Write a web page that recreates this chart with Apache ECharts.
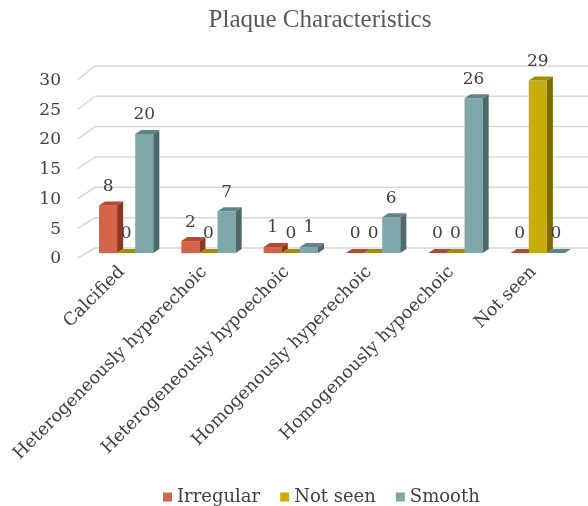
<!DOCTYPE html>
<html>
<head>
<meta charset="utf-8">
<script src="https://cdn.jsdelivr.net/npm/echarts@6/dist/echarts.min.js"></script>
<style>
  html, body { margin: 0; padding: 0; background: #fff; }
  #chart { width: 588px; height: 506px; }
</style>
</head>
<body>
<div id="chart"></div>
<script>
// Plaque characteristics by surface type
const categories = [
  'Calcified',
  'Heterogeneously hyperechoic',
  'Heterogeneously hypoechoic',
  'Homogenously hyperechoic',
  'Homogenously hypoechoic',
  'Not seen'
];
const irregular = [8, 2, 1, 0, 0, 0];
const notSeen   = [0, 0, 0, 0, 0, 29];
const smooth    = [20, 7, 1, 6, 26, 0];
const yTicks    = [0, 5, 10, 15, 20, 25, 30];

const SERIF = '"DejaVu Serif", Georgia, serif';
const TEXT = '#404040';

// pseudo-3D depth of each column (right and up)
const DX = 6, DY = 4;

const palettes = [
  { front: '#D4634A', side: '#8C3521', top: '#B04B32' },
  { front: '#C9AD0C', side: '#7E6C00', top: '#A48E00' },
  { front: '#7DA7A8', side: '#4F6869', top: '#5F8587' }
];

function barSeries(name, values, idx) {
  const pal = palettes[idx];
  return {
    type: 'custom',
    name: name,
    itemStyle: { color: pal.front },
    data: values.map((v, i) => [i, v]),
    encode: { x: 0, y: 1 },
    z: 3,
    renderItem: function (params, api) {
      const cat = api.value(0), v = api.value(1);
      const base = api.coord([cat, 0]);
      const top = api.coord([cat, v]);
      const w = api.size([1, 0])[0] * 0.22;
      const cx = base[0] + (idx - 1) * w;
      const x0 = cx - w / 2, x1 = cx + w / 2;
      const yb = base[1], yt = top[1];
      const children = [];
      if (yb - yt > 0.5) {
        children.push({
          type: 'rect',
          shape: { x: x0, y: yt, width: w, height: yb - yt },
          style: { fill: pal.front }
        });
        children.push({
          type: 'polygon',
          shape: { points: [[x1, yt], [x1 + DX, yt - DY], [x1 + DX, yb - DY], [x1, yb]] },
          style: { fill: pal.side }
        });
      }
      children.push({
        type: 'polygon',
        shape: { points: [[x0, yt], [x0 + DX, yt - DY], [x1 + DX, yt - DY], [x1, yt]] },
        style: { fill: pal.top }
      });
      children.push({
        type: 'text',
        x: cx,
        y: yt - 19,
        style: {
          text: String(v),
          fill: TEXT,
          font: '17px ' + SERIF,
          align: 'center',
          verticalAlign: 'middle'
        }
      });
      return { type: 'group', children: children };
    }
  };
}

// floor/back-wall grid lines: short diagonal at the front, then along the back wall
const gridSeries = {
  type: 'custom',
  name: 'grid',
  silent: true,
  z: 1,
  data: yTicks.map(t => [0, t]),
  encode: { x: 0, y: 1 },
  renderItem: function (params, api) {
    const cs = params.coordSys;
    const y0 = api.coord([0, 0])[1];
    const y = api.coord([0, api.value(1)])[1];
    const back = (y0 - 5) - (y0 - y) * 1.02;
    const front = (y0 + 5) - (y0 - y);
    return {
      type: 'polyline',
      shape: { points: [[cs.x - 7, front], [cs.x + 10, back], [cs.x + cs.width + 12, back]] },
      style: { stroke: '#D9D9D9', lineWidth: 1.5, fill: null }
    };
  }
};

const chart = echarts.init(document.getElementById('chart'), null, { renderer: 'canvas' });
chart.setOption({
  animation: false,
  backgroundColor: '#fff',
  graphic: [{
    type: 'text',
    x: 320,
    y: 20,
    style: {
      text: 'Plaque Characteristics',
      fill: '#595959',
      font: '25px "Liberation Serif", "Times New Roman", serif',
      align: 'center',
      verticalAlign: 'middle'
    }
  }],
  legend: {
    data: ['Irregular', 'Not seen', 'Smooth'],
    bottom: 0,
    left: 163,
    padding: 0,
    icon: 'rect',
    itemWidth: 9,
    itemHeight: 9,
    itemGap: 20,
    textStyle: { fontFamily: SERIF, fontSize: 18, color: TEXT }
  },
  grid: { left: 85, right: 9, top: 74.5, bottom: 253 },
  xAxis: {
    type: 'category',
    data: categories,
    axisLine: { show: false },
    axisTick: { show: false },
    axisLabel: {
      interval: 0,
      rotate: 45,
      margin: 12,
      padding: [0, 6, 0, 0],
      fontFamily: SERIF,
      fontSize: 17.5,
      color: TEXT
    }
  },
  yAxis: {
    type: 'value',
    min: 0,
    max: 30,
    interval: 5,
    axisLine: { show: false },
    axisTick: { show: false },
    splitLine: { show: false },
    axisLabel: {
      margin: 24,
      fontFamily: SERIF,
      fontSize: 17,
      color: TEXT,
      verticalAlign: 'top',
      lineHeight: 12
    }
  },
  series: [
    gridSeries,
    barSeries('Irregular', irregular, 0),
    barSeries('Not seen', notSeen, 1),
    barSeries('Smooth', smooth, 2)
  ]
});
</script>
</body>
</html>
